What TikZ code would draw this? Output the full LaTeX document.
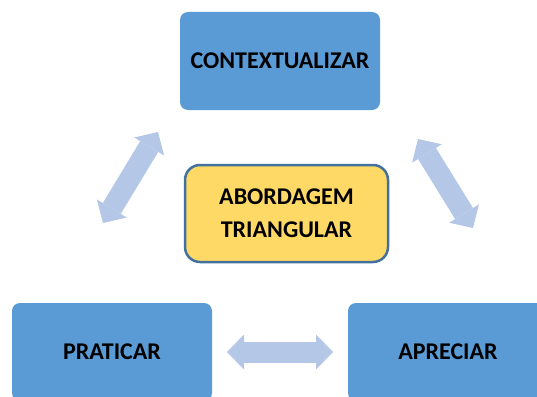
\documentclass[tikz,border=0pt]{standalone}
\usepackage{fontspec}
\setmainfont{Carlito}
\usetikzlibrary{arrows.meta}
\definecolor{boxblue}{RGB}{91,155,213}
\definecolor{arrowblue}{RGB}{180,199,231}
\definecolor{centerfill}{RGB}{255,217,102}
\definecolor{centerborder}{RGB}{65,113,156}
\tikzset{
  bluebox/.style={rectangle, rounded corners=8pt, fill=boxblue, draw=none,
    minimum width=200pt, minimum height=98pt, inner sep=0pt, outer sep=0pt,
    font=\fontsize{24}{33}\selectfont\bfseries, align=center},
  centerbox/.style={rectangle, rounded corners=15pt, fill=centerfill, draw=centerborder,
    line width=2.5pt, minimum width=203pt, minimum height=97pt, inner sep=0pt, outer sep=0pt,
    font=\fontsize{24}{33}\selectfont\bfseries, align=center},
  biarrow/.style={draw=arrowblue, line width=21pt,
    {Triangle[width=35pt,length=17pt,line width=0pt]}-{Triangle[width=35pt,length=17pt,line width=0pt]}}
}
\begin{document}
\begin{tikzpicture}[x=1pt,y=-1pt]
\useasboundingbox (0,0) rectangle (537,396);
\node[bluebox] (ctx) at (280,61) {CONTEXTUALIZAR};
\node[bluebox] (prat) at (112,352) {PRATICAR};
\node[bluebox] (apr) at (448,352) {APRECIAR};
\node[centerbox] (abord) at (286.5,213.5) {ABORDAGEM\\TRIANGULAR};
\coordinate (l1) at (103,223);
\coordinate (l2) at (158,132);
\coordinate (r1) at (418,139);
\coordinate (r2) at (473,228);
\draw[biarrow] (l1) -- (l2);
\draw[biarrow] (r1) -- (r2);
\draw[biarrow, shorten <=15pt, shorten >=15pt] (prat) -- (apr);
\end{tikzpicture}
\end{document}
